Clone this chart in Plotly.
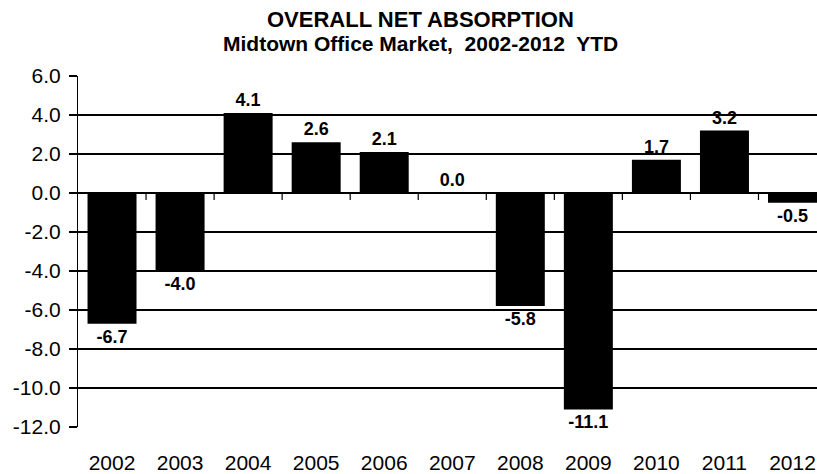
import plotly.graph_objects as go

# Midtown office net absorption by year (millions of sq ft)
years = ["2002", "2003", "2004", "2005", "2006", "2007", "2008", "2009", "2010", "2011", "2012"]
absorption = [-6.7, -4.0, 4.1, 2.6, 2.1, 0.0, -5.8, -11.1, 1.7, 3.2, -0.5]
y_ticks = [6, 4, 2, 0, -2, -4, -6, -8, -10, -12]
y_tick_text = [f"{v:.1f}" for v in y_ticks]
title_lines = ["OVERALL NET ABSORPTION", "Midtown Office Market,  2002-2012  YTD"]

FONT = "Liberation Sans, Arial, sans-serif"

fig = go.Figure()
fig.add_trace(go.Bar(
    x=list(range(len(years))),
    y=absorption,
    marker=dict(color="black", line=dict(width=0)),
    text=[f"{v:.1f}" for v in absorption],
    textposition="outside",
    textfont=dict(family=FONT, size=18, color="black", weight="bold"),
    cliponaxis=False,
    width=0.72,
))

# small tick marks on the zero line between categories
for i in range(len(years) - 1):
    fig.add_shape(type="line", xref="x", yref="y",
                  x0=i + 0.5, x1=i + 0.5, y0=0, y1=-0.36,
                  line=dict(color="black", width=1.2))

# two-line bold heading, first line slightly larger
for text, ypos, size in zip(title_lines, [1.160, 1.094], [22, 21]):
    fig.add_annotation(
        text=text, xref="paper", yref="paper",
        x=0.463, y=ypos, xanchor="center", yanchor="middle",
        showarrow=False,
        font=dict(family=FONT, size=size, color="black", weight="bold"),
    )

fig.update_layout(
    width=817, height=474,
    margin=dict(l=78, r=0, t=76, b=47),
    paper_bgcolor="white", plot_bgcolor="white",
    showlegend=False,
    font=dict(family=FONT, color="black"),
)

fig.update_xaxes(
    range=[-0.5, 10.36],
    tickmode="array",
    tickvals=list(range(len(years))),
    ticktext=years,
    tickfont=dict(family=FONT, size=21, color="black"),
    ticks="", showgrid=False, showline=False, zeroline=False,
    ticklabelstandoff=21,
    ticklabeloverflow="allow",
)
fig.update_yaxes(
    range=[-12, 6],
    tickmode="array",
    tickvals=y_ticks,
    ticktext=y_tick_text,
    tickfont=dict(family=FONT, size=21, color="black"),
    ticks="outside", ticklen=8, tickcolor="black", tickwidth=1.5,
    showgrid=True, gridcolor="black", gridwidth=1.8,
    zeroline=True, zerolinecolor="black", zerolinewidth=1.8,
    showline=True, linecolor="black", linewidth=1.2,
    ticklabelstandoff=4,
)

fig.write_html("out.html")
